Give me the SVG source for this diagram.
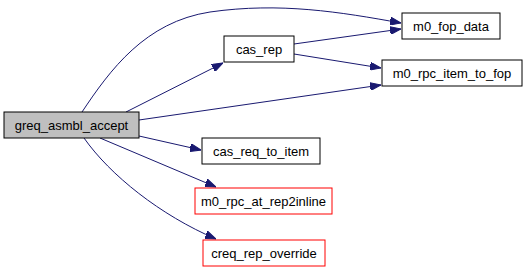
<svg xmlns="http://www.w3.org/2000/svg" width="527" height="271" viewBox="0 0 527 271">
  <defs>
    <marker id="arrow" markerWidth="11" markerHeight="8" refX="11" refY="4" orient="auto" markerUnits="userSpaceOnUse">
      <path d="M0,0 L11,4 L0,8 Z" fill="#191970" stroke="#191970"/>
    </marker>
    <style>
      .node rect { fill: #ffffff; stroke: #000000; stroke-width: 1; }
      .node.root rect { fill: #bfbfbf; stroke: #000000; }
      .node.ext rect { stroke: #ff0000; }
      .node text { font-family: "Liberation Sans", Arial, Helvetica, sans-serif; font-size: 13px; fill: #000000; text-anchor: middle; dominant-baseline: central; }
      .edge { fill: none; stroke: #191970; stroke-width: 1; marker-end: url(#arrow); }
    </style>
  </defs>
  <rect x="0" y="0" width="527" height="271" fill="#ffffff"/>

  <g id="edges">
    <path class="edge" d="M82,112 C110,70 145,22 210,12 C280,2 340,12 401,23"/>
    <path class="edge" d="M126,112 L223,63"/>
    <path class="edge" d="M139,120 L381,85"/>
    <path class="edge" d="M294,44 L401,29"/>
    <path class="edge" d="M294,54 L381,68"/>
    <path class="edge" d="M139,136 L201,150"/>
    <path class="edge" d="M100,138 L216,187"/>
    <path class="edge" d="M84,138 C110,175 160,215 216,239"/>
  </g>

  <g id="greq_asmbl_accept" class="node root">
    <rect x="4" y="112" width="135" height="26"/>
    <text x="71.5" y="125">greq_asmbl_accept</text>
  </g>
  <g id="cas_rep" class="node">
    <rect x="224" y="36" width="70" height="26"/>
    <text x="259" y="49">cas_rep</text>
  </g>
  <g id="m0_fop_data" class="node">
    <rect x="402" y="13" width="98" height="26"/>
    <text x="451" y="26">m0_fop_data</text>
  </g>
  <g id="m0_rpc_item_to_fop" class="node">
    <rect x="382" y="60" width="140" height="26"/>
    <text x="452" y="73">m0_rpc_item_to_fop</text>
  </g>
  <g id="cas_req_to_item" class="node">
    <rect x="202" y="138" width="118" height="26"/>
    <text x="261" y="151">cas_req_to_item</text>
  </g>
  <g id="m0_rpc_at_rep2inline" class="node ext">
    <rect x="195" y="188" width="137" height="26"/>
    <text x="263.5" y="201">m0_rpc_at_rep2inline</text>
  </g>
  <g id="creq_rep_override" class="node ext">
    <rect x="203" y="240" width="122" height="26"/>
    <text x="264" y="253">creq_rep_override</text>
  </g>
</svg>
